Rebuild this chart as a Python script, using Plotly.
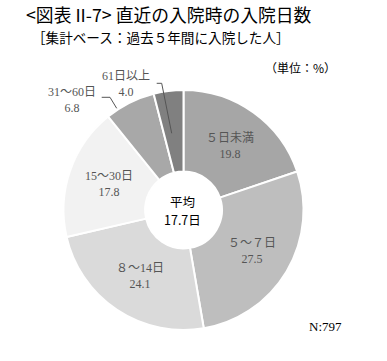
import math
import plotly.graph_objects as go

categories = ["５日未満", "５〜７日", "８〜14日", "15〜30日", "31〜60日", "61日以上"]
values = [19.8, 27.5, 24.1, 17.8, 6.8, 4.0]
value_labels = ["19.8", "27.5", "24.1", "17.8", "6.8", "4.0"]
colors = ["#a6a6a6", "#bebebe", "#dadada", "#f2f2f2", "#a8a8a8", "#808080"]
inside = [True, True, True, True, False, False]

W, H = 387, 361
CX, CY, R = 183.5, 210.0, 120.0
HOLE = 0.32

SERIF = "Liberation Serif, Noto Sans CJK JP, serif"
SANS = "Noto Sans CJK JP, sans-serif"

fig = go.Figure()
fig.add_trace(go.Pie(
    labels=categories,
    values=values,
    sort=False,
    direction="clockwise",
    rotation=0,
    hole=HOLE,
    marker=dict(colors=colors, line=dict(color="white", width=2)),
    textinfo="none",
    hoverinfo="label+value",
    showlegend=False,
    domain=dict(x=[(CX - R) / W, (CX + R) / W], y=[(H - CY - R) / H, (H - CY + R) / H]),
))

def px(x):
    return x / W

def py(y):
    return (H - y) / H

annotations = []
total = sum(values)
cum = 0.0
r_label = R * (1 + HOLE) / 2
for cat, v, lab, ins in zip(categories, values, value_labels, inside):
    mid = (cum + v / 2) / total * 2 * math.pi
    cum += v
    if ins:
        x = CX + r_label * math.sin(mid)
        y = CY - r_label * math.cos(mid)
        annotations.append(dict(
            x=px(x), y=py(y), xref="paper", yref="paper",
            text=f"{cat}<br>{lab}", showarrow=False,
            font=dict(family=SERIF, size=12, color="#555555"),
            align="center", xanchor="center", yanchor="middle",
        ))

# outside labels for small slices
annotations.append(dict(
    x=px(126), y=py(84), xref="paper", yref="paper",
    text=f"{categories[5]}<br>{value_labels[5]}", showarrow=False,
    font=dict(family=SERIF, size=12, color="#555555"),
    align="center", xanchor="center", yanchor="middle",
))
annotations.append(dict(
    x=px(72), y=py(100), xref="paper", yref="paper",
    text=f"{categories[4]}<br>{value_labels[4]}", showarrow=False,
    font=dict(family=SERIF, size=12, color="#555555"),
    align="center", xanchor="center", yanchor="middle",
))

# centre text
for txt, yy in (("平均", 201.0), ("17.7日", 219.5)):
    annotations.append(dict(
        x=px(CX - 1), y=py(yy), xref="paper", yref="paper",
        text=txt, showarrow=False,
        font=dict(family=SANS, size=12.5, color="#000000"),
        align="center", xanchor="center", yanchor="middle",
    ))

# title, subtitle, unit, N
annotations.append(dict(
    x=px(24), y=py(14), xref="paper", yref="paper",
    text="<図表 II-7> 直近の入院時の入院日数", showarrow=False,
    font=dict(family=SANS, size=17.8, color="#000000"),
    xanchor="left", yanchor="middle",
))
annotations.append(dict(
    x=px(30), y=py(37), xref="paper", yref="paper",
    text="［集計ベース：過去５年間に入院した人］", showarrow=False,
    font=dict(family=SANS, size=13.6, color="#000000"),
    xanchor="left", yanchor="middle",
))
annotations.append(dict(
    x=px(338), y=py(68), xref="paper", yref="paper",
    text="（単位：%）", showarrow=False,
    font=dict(family=SANS, size=12, color="#000000"),
    xanchor="right", yanchor="middle",
))
annotations.append(dict(
    x=px(344), y=py(326), xref="paper", yref="paper",
    text="N:797", showarrow=False,
    font=dict(family=SERIF, size=13, color="#000000"),
    xanchor="right", yanchor="middle",
))

def path(points):
    d = "M " + " L ".join(f"{px(x)},{py(y)}" for x, y in points)
    return dict(type="path", xref="paper", yref="paper", path=d,
                line=dict(color="#555555", width=1))

shapes = [
    path([(156.7, 83.3), (161.7, 83.3), (171.7, 133.3)]),
    path([(101.7, 97.3), (110.0, 97.3), (116.7, 108.3)]),
]

fig.update_layout(
    width=W, height=H,
    margin=dict(l=0, r=0, t=0, b=0),
    paper_bgcolor="white", plot_bgcolor="white",
    annotations=annotations,
    shapes=shapes,
)

fig.write_html(
    "out.html",
    config={"displayModeBar": False},
    post_script="document.body.style.margin='0';document.body.style.overflow='hidden';",
)
